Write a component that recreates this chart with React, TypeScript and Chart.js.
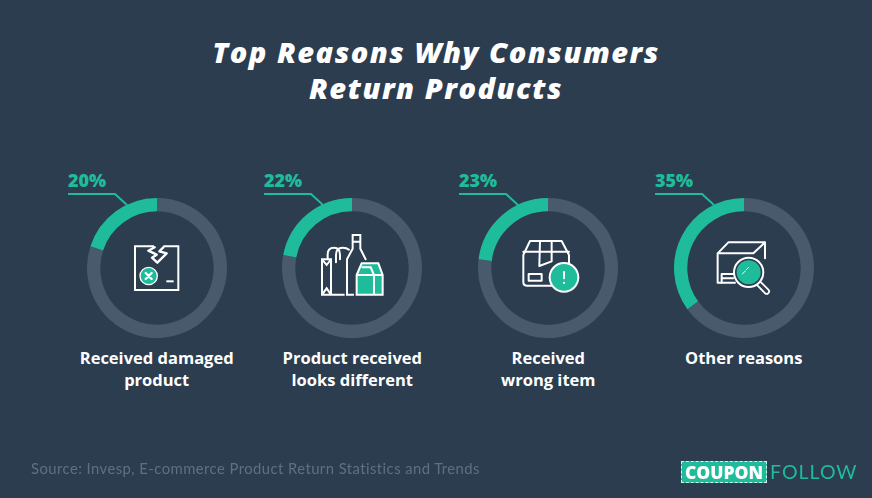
import React, { useEffect, useRef } from "react";
import { Chart, registerables } from "chart.js";

Chart.register(...registerables);

const categories = ["Received damaged product", "Product received looks different", "Received wrong item", "Other reasons"];
const labelLines = [["Received damaged", "product"], ["Product received", "looks different"], ["Received", "wrong item"], ["Other reasons"]];
const shares = [20, 22, 23, 35];
const remainders = [80, 78, 77, 65];
const centersX = [156.7, 352.3, 548.3, 743.7];
const percentLeft = [68, 264, 459, 655];

const BG = "#2c3d50";
const TEAL = "#1fbc9c";
const RING = "#485a6c";
const FONT = "'Open Sans', Lato, sans-serif";
const CY = 268;
const R = 70;

function Donut({ index }: { index: number }) {
  const ref = useRef<HTMLCanvasElement | null>(null);
  useEffect(() => {
    if (!ref.current) return;
    const chart = new Chart(ref.current, {
      type: "doughnut",
      data: {
        labels: ["Rest", categories[index]],
        datasets: [{ data: [remainders[index], shares[index]], backgroundColor: [RING, TEAL], borderWidth: 0 }],
      },
      options: {
        responsive: false,
        animation: false,
        cutout: "81%",
        rotation: 0,
        layout: { padding: 0 },
        plugins: { legend: { display: false }, tooltip: { enabled: false } },
      },
    });
    return () => chart.destroy();
  }, [index]);
  return (
    <canvas
      ref={ref}
      width={R * 2}
      height={R * 2}
      style={{ position: "absolute", left: centersX[index] - R, top: CY - R, width: R * 2, height: R * 2 }}
    />
  );
}

const line = { fill: "none", stroke: "#fff", strokeWidth: 6, strokeLinejoin: "round" as const, strokeLinecap: "round" as const };

function Icons() {
  return (
    <svg width={872} height={498} style={{ position: "absolute", left: 0, top: 0 }}>
      {[0, 1, 2, 3].map((i) => (
        <path key={i} d={`M${percentLeft[i]} 194 H${percentLeft[i] + 47} L${percentLeft[i] + 59} 205`} fill="none" stroke={TEAL} strokeWidth={2} />
      ))}
      <g transform="translate(50 160) scale(0.3333)">
        <path {...line} strokeLinecap="butt" strokeLinejoin="miter" d="M312 259 H255 V390 H385 V259 H340" />
        <path {...line} strokeWidth={7} d="M314 262 L295 272 L320 284 L306 293 L322 308 L350 280 L328 274 L340 262" />
        <circle cx={296} cy={348} r={26} fill={TEAL} stroke="#fff" strokeWidth={4} />
        <path {...line} strokeWidth={7} d="M287 339 L305 357 M305 339 L287 357" />
        <path {...line} strokeLinecap="butt" d="M349 364 H371" />
      </g>
      <g transform="translate(250 160) scale(0.3333)">
        <path d="M320 345 L335 310 H385 L398 345 V405 H320 Z" fill={TEAL} />
        <path {...line} strokeLinecap="butt" strokeLinejoin="miter" d="M284 404 H216 V298 H243 V404 M216 298 L230 315 L243 298 M216 404 L230 385 L243 404" />
        <path {...line} d="M233 298 V283 Q233 263 252 263 Q270 263 270 285 V298 M258 307 V285 Q258 263 278 263 Q290 263 297 269" />
        <path {...line} strokeLinecap="butt" strokeLinejoin="miter" d="M312 404 H291 V298 L308 266 V225 H331 V266 L348 300 M308 245 H331" />
        <path {...line} strokeLinecap="butt" strokeLinejoin="miter" d="M320 404 H398 V345 L385 310 H335 L320 345 Z M320 345 H398 M372 345 V404 M372 345 L362 322 H335" />
      </g>
      <g transform="translate(450 160) scale(0.3333)">
        <path {...line} d="M305 377 H230 Q220 377 220 367 V285 L240 243 H335 L357 285 V310 M220 275 H357 M270 243 L268 318 L305 304 V243" />
        <rect x={236} y={342} width={39} height={20} {...line} />
        <circle cx={342} cy={352} r={43} fill={TEAL} stroke="#fff" strokeWidth={6} />
        <path {...line} strokeWidth={6} d="M342 336 V355 M342 368 V369" />
      </g>
      <g transform="translate(640 160) scale(0.3333)">
        <path {...line} d="M285 368 H233 V280 L265 247 H375 V295 M233 280 H340 L375 247" />
        <path {...line} d="M280 342 H245 V368 M245 355 H280" />
        <path d="M358 372 L380 394" stroke="#fff" strokeWidth={20} strokeLinecap="round" />
        <path d="M358 372 L380 394" stroke={BG} strokeWidth={9} strokeLinecap="round" />
        <circle cx={326} cy={337} r={44} fill={BG} stroke="#fff" strokeWidth={6} />
        <circle cx={326} cy={337} r={36} fill={TEAL} />
        <path {...line} strokeWidth={3} d="M307 342 L315 334 M318 330 L326 322" />
      </g>
    </svg>
  );
}

export default function App() {
  return (
    <div style={{ position: "absolute", left: 0, top: 0, width: 872, height: 498, background: BG, overflow: "hidden", fontFamily: FONT }}>
      <style>{"html,body{margin:0;padding:0;background:" + BG + "}"}</style>
      <div style={{ position: "absolute", left: 0, width: 872, top: 34, textAlign: "center", color: "#fff", fontSize: 29, fontWeight: 800, fontStyle: "italic", lineHeight: "36px", letterSpacing: 1.5 }}>
        <div>Top Reasons Why Consumers</div>
        <div>Return Products</div>
      </div>
      {shares.map((s, i) => (
        <React.Fragment key={i}>
          <Donut index={i} />
          <div style={{ position: "absolute", left: percentLeft[i], top: 169, color: TEAL, fontSize: 18, fontWeight: 800, lineHeight: "22px" }}>{s}%</div>
          <div style={{ position: "absolute", left: centersX[i] - 100, width: 200, top: 347, textAlign: "center", color: "#fff", fontSize: 16.5, fontWeight: 700, lineHeight: "22px" }}>
            {labelLines[i].map((l) => (
              <div key={l}>{l}</div>
            ))}
          </div>
        </React.Fragment>
      ))}
      <Icons />
      <div style={{ position: "absolute", left: 31, top: 459, color: "#5f7082", fontSize: 14.8, fontFamily: "Lato, sans-serif", lineHeight: "18px", whiteSpace: "nowrap", letterSpacing: 0.45 }}>
        Source: Invesp, E-commerce Product Return Statistics and Trends
      </div>
      <div style={{ position: "absolute", left: 681, top: 461, width: 86, height: 22, background: TEAL, boxSizing: "border-box", border: "1px dashed #d8f3ec", color: "#fff", fontWeight: 800, fontSize: 17.5, lineHeight: "20px", textAlign: "center" }}>
        COUPON
      </div>
      <div style={{ position: "absolute", left: 770, top: 461, color: TEAL, fontSize: 19.5, lineHeight: "22px", letterSpacing: 1, whiteSpace: "nowrap", fontFamily: "Lato, sans-serif" }}>FOLLOW</div>
    </div>
  );
}
